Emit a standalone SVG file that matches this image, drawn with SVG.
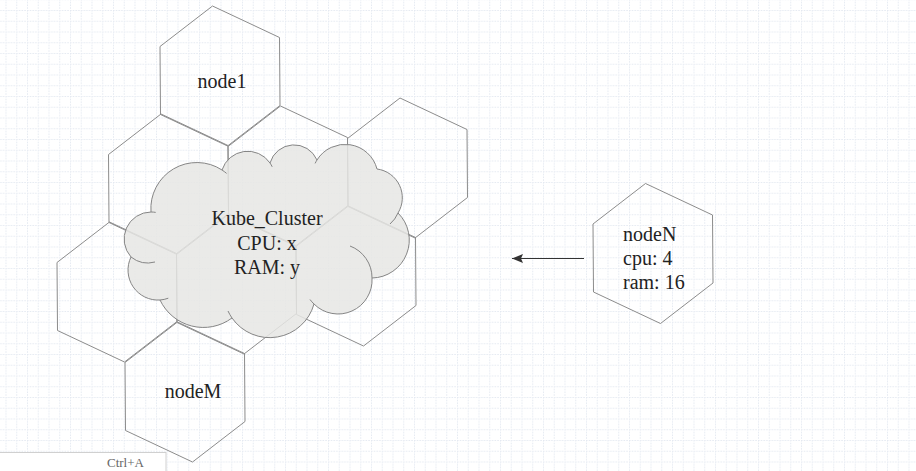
<svg xmlns="http://www.w3.org/2000/svg" xmlns:xlink="http://www.w3.org/1999/xlink" width="916" height="471" viewBox="0 0 916 471">
<style>
.hex{fill:none;stroke:#8c8c8c;stroke-width:1}
.lbl{font-family:"Liberation Serif","Times New Roman",serif;font-size:20px;fill:#222}
.cl{fill:none;stroke:#858585;stroke-width:1}
.conn{stroke:#333;stroke-width:1;fill:none}
</style>
<defs>
<pattern id="grid" patternUnits="userSpaceOnUse" x="5.5" y="10" width="10.75" height="10.75">
<path d="M0.5 0V10.75M0 0.5H10.75" stroke="#e4e9f1" stroke-width="1" stroke-dasharray="1.5 1.2" fill="none"/>
</pattern>
<polygon id="hx" points="-7.5,-70 59.5,-38.5 60,29.5 7.5,70 -59.5,38.5 -60,-29.5"/>
<marker id="arr" markerWidth="12" markerHeight="10" refX="11" refY="5" orient="auto" markerUnits="userSpaceOnUse">
<path d="M0,0.5 L11,5 L0,9.5 L2,5 Z" fill="#333"/>
</marker>
</defs>
<rect width="916" height="471" fill="#fff"/>
<rect width="916" height="471" fill="url(#grid)"/>

<g id="hex-left-upper"><use xlink:href="#hx" href="#hx" class="hex" x="168.5" y="184"/></g>
<g id="hex-center"><use xlink:href="#hx" href="#hx" class="hex" x="288" y="176"/></g>
<g id="hex-right-upper"><use xlink:href="#hx" href="#hx" class="hex" x="407.5" y="168"/></g>
<g id="hex-right-lower"><use xlink:href="#hx" href="#hx" class="hex" x="356" y="276"/></g>
<g id="hex-mid-lower"><use xlink:href="#hx" href="#hx" class="hex" x="236.5" y="284"/></g>
<g id="hex-left-lower"><use xlink:href="#hx" href="#hx" class="hex" x="117" y="292"/></g>
<g id="node1"><use xlink:href="#hx" href="#hx" class="hex" x="220" y="76"/><text class="lbl" x="222" y="88" text-anchor="middle">node1</text></g>
<g id="nodeM"><use xlink:href="#hx" href="#hx" class="hex" x="185" y="392"/><text class="lbl" x="193" y="398" text-anchor="middle">nodeM</text></g>

<g id="kube_cluster">
<path d="M131,257 A27,27 0 0 1 151,212 A46,46 0 0 1 222,170 A27,27 0 0 1 270,163 A25,25 0 0 1 317,160 A33,33 0 0 1 377,169 A29,29 0 0 1 398,213 A38,38 0 0 1 372,278 A34,34 0 0 1 314,304 A46,46 0 0 1 232,318 A48,48 0 0 1 160,300 A30,30 0 0 1 131,257 Z" fill="#e6e6e4" fill-opacity="0.85" stroke="#858585" stroke-width="1"/>
<path class="cl" d="M155,262 A27,27 0 0 1 131,257"/>
<path class="cl" d="M151,212 A27,27 0 0 1 155.7,212.4"/>
<path class="cl" d="M222,170 A46,46 0 0 1 226.6,173.4"/>
<path class="cl" d="M270,163 A27,27 0 0 1 272.2,166.8"/>
<path class="cl" d="M315.1,163.4 A33,33 0 0 1 317,160"/>
<path class="cl" d="M398,213 A29,29 0 0 1 390,224"/>
<path class="cl" d="M350,246 A34,34 0 0 1 372,278"/>
<path class="cl" d="M314,304 A34,34 0 0 1 310,299.5"/>
<path class="cl" d="M232,318 A46,46 0 0 1 228,311"/>
<path class="cl" d="M168.3,298.2 A30,30 0 0 1 160,300"/>
<text class="lbl" x="267" y="225" text-anchor="middle">Kube_Cluster</text>
<text class="lbl" x="267" y="249.5" text-anchor="middle">CPU: x</text>
<text class="lbl" x="267" y="274" text-anchor="middle">RAM: y</text>
</g>

<g id="nodeN"><use xlink:href="#hx" href="#hx" class="hex" x="653" y="253.5"/>
<text class="lbl" x="623" y="241">nodeN</text>
<text class="lbl" x="623" y="265">cpu: 4</text>
<text class="lbl" x="623" y="289">ram: 16</text>
</g>

<g id="connectors">
<path class="conn" d="M584,258.5 L512,258.5" marker-end="url(#arr)"/>
</g>

<g id="menu">
<rect x="-1" y="452.5" width="167" height="30" fill="#fff" stroke="#d0d0d0" stroke-width="1"/>
<text x="107" y="467" font-family="'Liberation Serif','Times New Roman',serif" font-size="13" fill="#666">Ctrl+A</text>
</g>
</svg>
